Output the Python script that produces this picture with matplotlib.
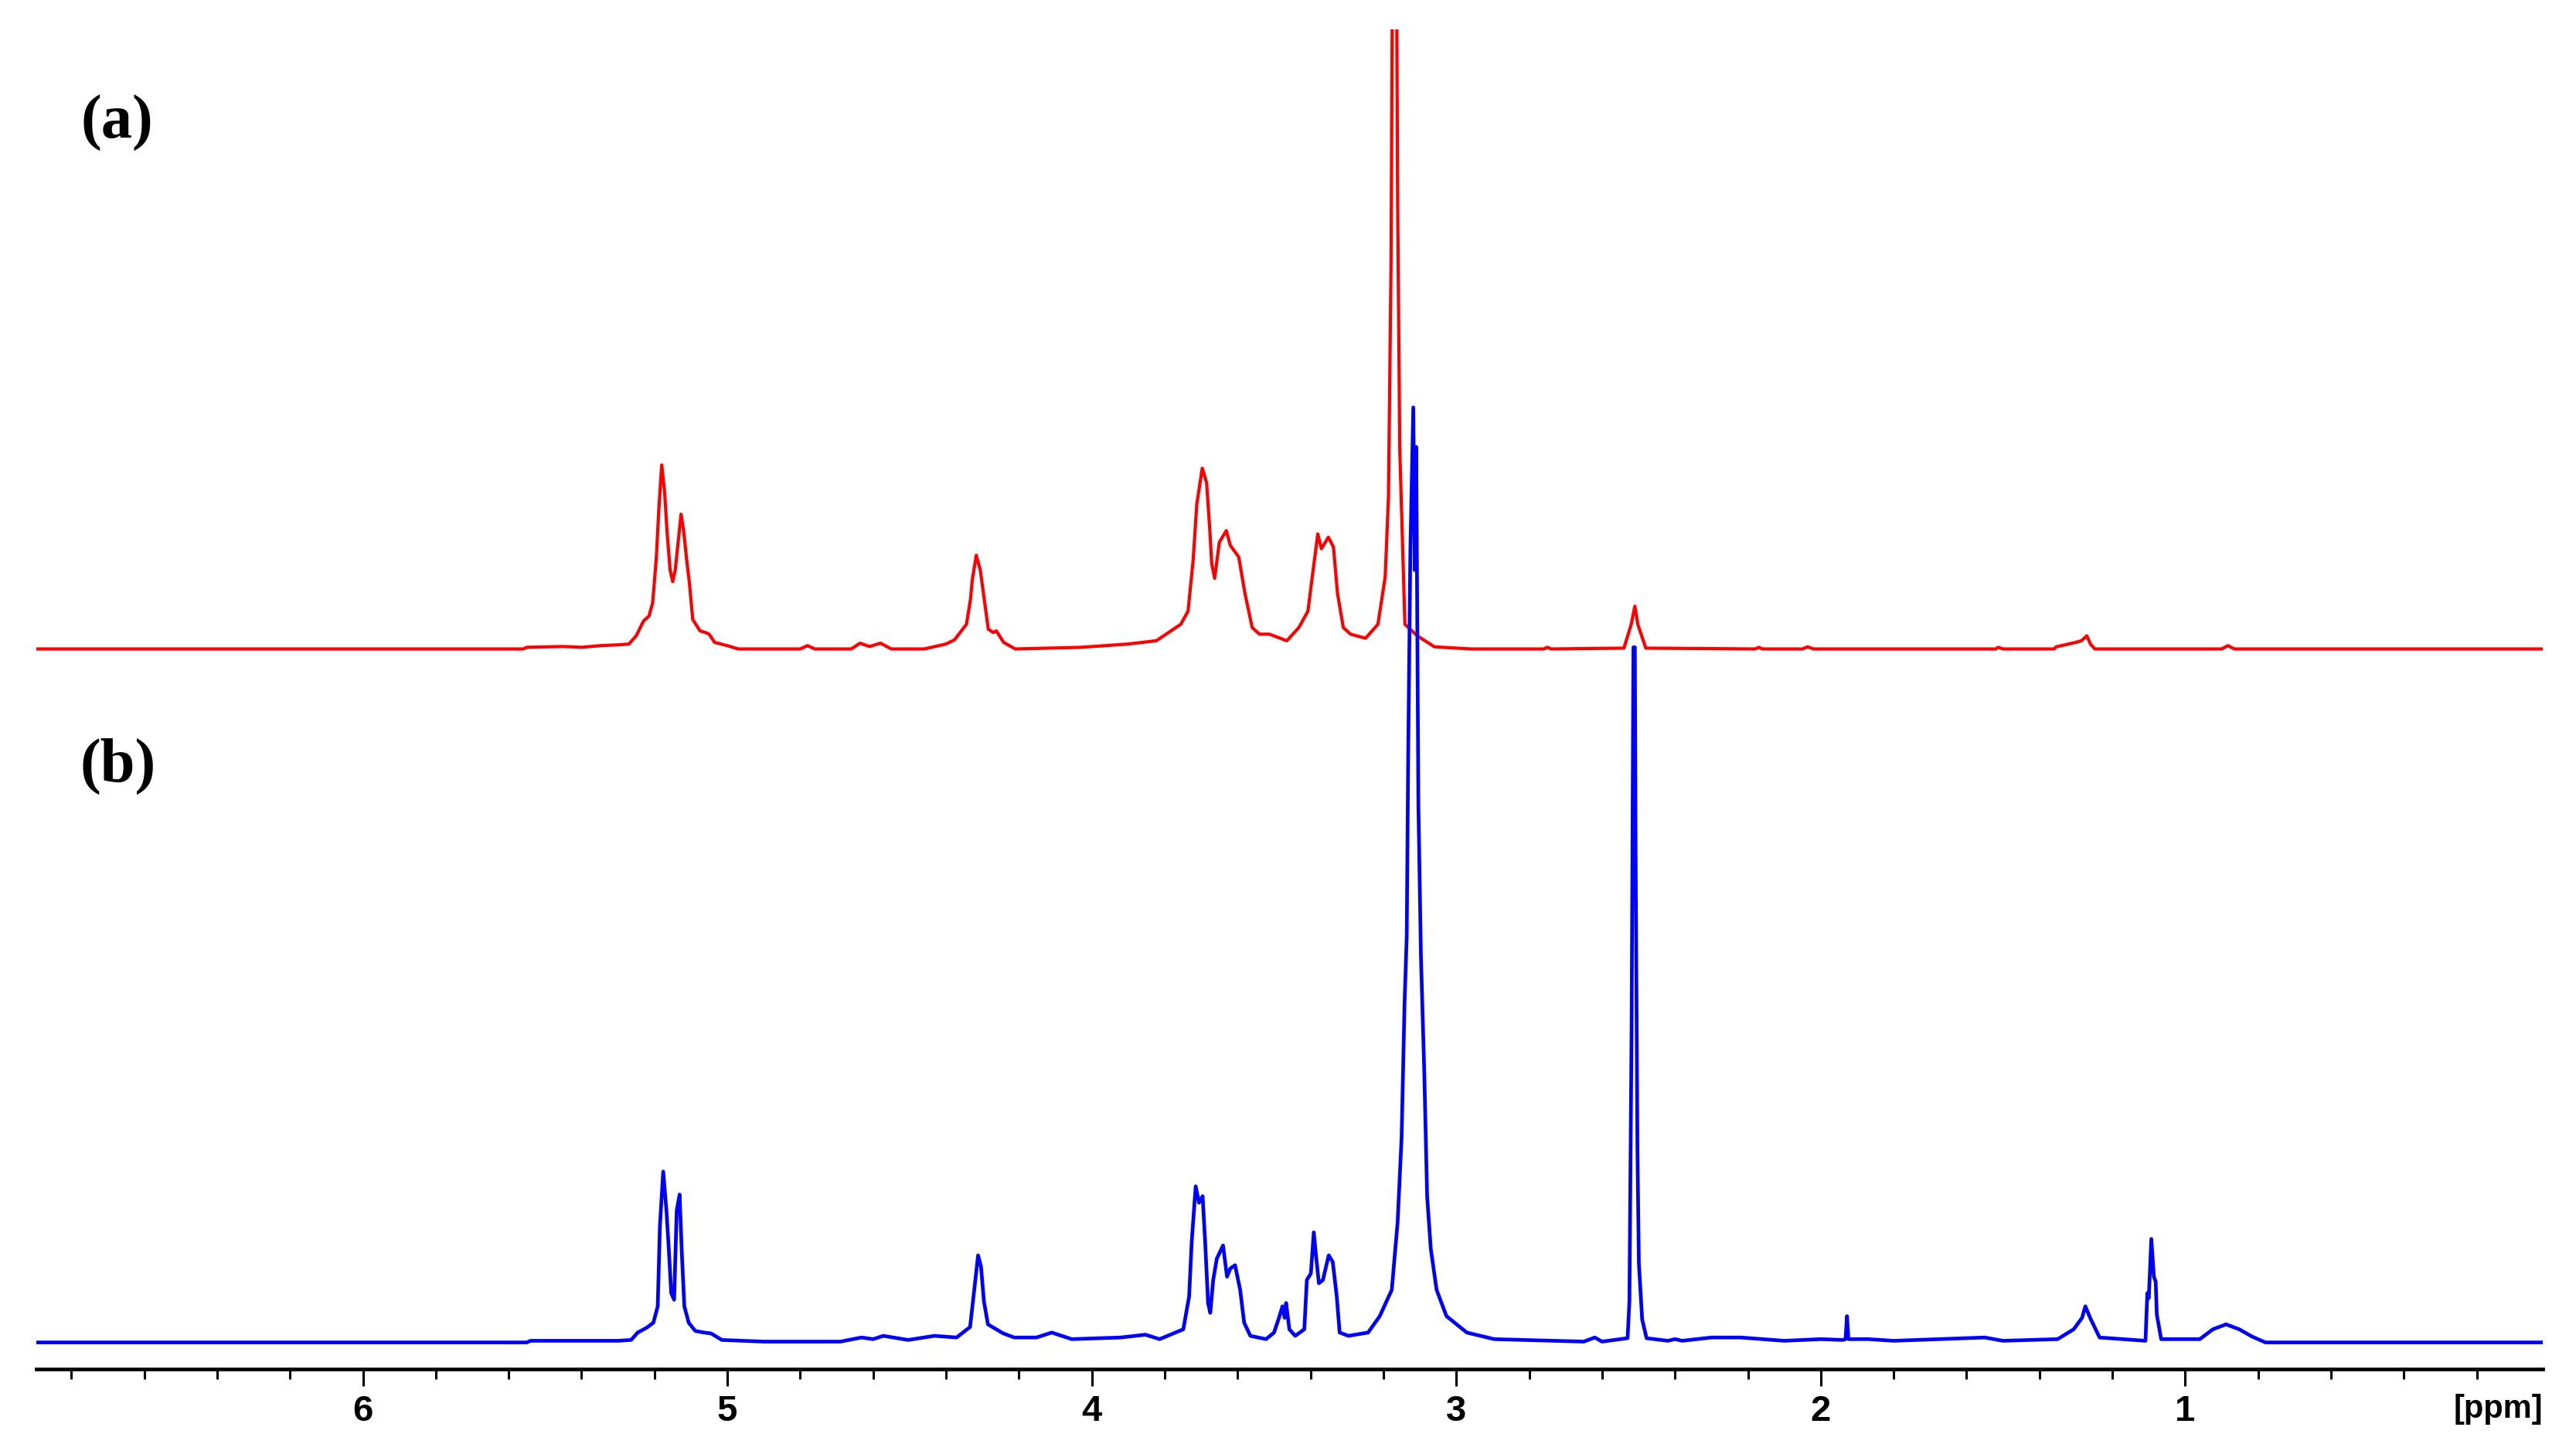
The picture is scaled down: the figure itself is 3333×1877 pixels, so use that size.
import matplotlib
matplotlib.use("Agg")
import matplotlib.pyplot as plt
from matplotlib.ticker import FixedLocator, MultipleLocator

# (a) red spectrum: chemical shift (ppm) and intensity above its own baseline
ppm_a = [6.896, 5.56, 5.55, 5.45, 5.40, 5.35, 5.30, 5.27, 5.25, 5.23, 5.215, 5.205,
         5.195, 5.188, 5.18, 5.172, 5.165, 5.157, 5.150, 5.143, 5.135, 5.127, 5.120,
         5.112, 5.104, 5.095, 5.075, 5.06, 5.05, 5.035, 5.00, 4.97, 4.80, 4.78, 4.76,
         4.66, 4.636, 4.61, 4.58, 4.55, 4.46, 4.40, 4.377, 4.344, 4.333, 4.328, 4.317,
         4.306, 4.295, 4.284, 4.27, 4.262, 4.242, 4.21, 4.03, 3.90, 3.823, 3.756, 3.736,
         3.722, 3.712, 3.697, 3.685, 3.677, 3.671, 3.663, 3.65, 3.631, 3.620, 3.597,
         3.580, 3.560, 3.540, 3.513, 3.465, 3.432, 3.407, 3.398, 3.380, 3.370, 3.351,
         3.337, 3.326, 3.310, 3.290, 3.249, 3.215, 3.195, 3.186, 3.179, 3.175, 3.164,
         3.161, 3.155, 3.141, 3.107, 3.06, 2.96, 2.76, 2.75, 2.74, 2.54, 2.52, 2.51,
         2.502, 2.48, 2.18, 2.17, 2.16, 2.05, 2.036, 2.02, 1.52, 1.513, 1.50, 1.36,
         1.354, 1.30, 1.285, 1.27, 1.26, 1.248, 0.90, 0.883, 0.865, 0.019]
int_a = [0, 0, 1, 1.5, 1, 2, 2.5, 3, 8, 17, 20, 28,
         55, 85, 112, 95, 70, 48, 41, 48, 65, 82, 72,
         55, 40, 18, 11, 10, 9, 4, 2, 0, 0, 2, 0,
         0, 3.5, 1.5, 3.5, 0, 0, 3, 5.5, 15, 30, 42, 57,
         48, 30, 12, 10, 11, 4, 0, 1, 3, 5, 15, 23,
         54, 88, 110, 101, 75, 52, 43, 65, 72, 63, 56,
         34, 13, 9, 9, 5, 13, 23, 39, 70, 61, 68,
         62, 34, 13, 9, 6.5, 15, 44, 93, 235, 420, 420,
         274, 121, 15, 8, 1.3, 0, 0, 1, 0, 0.5, 15, 26,
         15, 0.5, 0, 1, 0, 0, 1.3, 0, 0, 1, 0, 0,
         1.3, 4, 5, 8, 3, 0, 0, 2, 0, 0]

# (b) blue spectrum
ppm_b = [6.896, 5.55, 5.54, 5.30, 5.264, 5.246, 5.221, 5.203, 5.191, 5.185, 5.176,
         5.167, 5.161, 5.154, 5.146, 5.139, 5.131, 5.125, 5.118, 5.106, 5.088, 5.064,
         5.045, 5.015, 4.90, 4.69, 4.632, 4.60, 4.572, 4.504, 4.432, 4.371, 4.334,
         4.322, 4.312, 4.304, 4.296, 4.285, 4.267, 4.243, 4.213, 4.152, 4.110, 4.055,
         3.921, 3.853, 3.814, 3.749, 3.733, 3.726, 3.715, 3.706, 3.696, 3.689, 3.681,
         3.675, 3.667, 3.657, 3.640, 3.629, 3.620, 3.607, 3.593, 3.582, 3.565, 3.522,
         3.500, 3.485, 3.477, 3.471, 3.467, 3.458, 3.442, 3.417, 3.410, 3.399, 3.391,
         3.385, 3.377, 3.366, 3.350, 3.339, 3.328, 3.320, 3.296, 3.242, 3.210, 3.177,
         3.161, 3.150, 3.142, 3.136, 3.132, 3.126, 3.118, 3.114, 3.110, 3.104, 3.097,
         3.088, 3.080, 3.070, 3.054, 3.027, 2.971, 2.896, 2.65, 2.62, 2.60, 2.530,
         2.525, 2.519, 2.514, 2.510, 2.508, 2.503, 2.499, 2.49, 2.478, 2.42, 2.40,
         2.38, 2.30, 2.22, 2.10, 2.00, 1.94, 1.932, 1.928, 1.924, 1.87, 1.80, 1.55,
         1.50, 1.35, 1.306, 1.283, 1.274, 1.261, 1.235, 1.109, 1.104, 1.100, 1.093,
         1.086, 1.081, 1.078, 1.066, 0.96, 0.924, 0.888, 0.852, 0.816, 0.78, 0.019]
int_b = [0, 0, 1, 1, 1.5, 6, 9, 12, 22, 71, 104,
         80, 58, 30, 26, 80, 90, 55, 22, 12, 7, 6,
         5.5, 1.5, 0.5, 0.5, 3, 2, 4, 1.5, 4, 3, 9.4,
         33, 53, 46, 25, 11, 8.6, 5.5, 3, 3, 6, 2,
         3, 4.7, 2, 8, 28, 61, 95, 85, 89, 61, 24,
         18, 38, 51, 59, 40, 45, 47, 32, 12, 4, 2,
         6, 16, 22, 15, 24, 8, 4, 8, 38, 42, 67,
         53, 36, 38, 53, 49, 28, 6, 4, 6, 16, 32,
         73, 125, 206, 247, 356, 482, 569, 470, 545, 328, 235,
         166, 89, 57, 32, 16, 6, 2, 0.5, 3, 0.5, 2.6,
         25, 192, 423, 423, 298, 118, 48, 14, 2.6, 1, 2,
         1, 3, 3, 1, 2, 1.5, 2, 16, 2, 2, 1, 3,
         1, 2, 8, 15, 22, 15, 3, 1, 30, 27, 63,
         40, 37, 17, 2, 2, 8, 11, 8, 3.5, 0, 0]

offset_a = 422
major_ticks = [6, 5, 4, 3, 2, 1]

narrow = ["Liberation Sans Narrow", "DejaVu Sans Condensed", "Liberation Sans", "DejaVu Sans"]
serif = ["Liberation Serif", "DejaVu Serif"]

fig = plt.figure(figsize=(33.33, 18.77), dpi=100)
ax = fig.add_axes([0.0141, 0.0567, 0.9730, 0.9230])

ax.plot(ppm_a, [v + offset_a for v in int_a], color="#ff0000", lw=3.0)
ax.plot(ppm_b, int_b, color="#0000ff", lw=3.4)

ax.set_xlim(6.896, 0.019)
ax.set_ylim(-16, 799)

for s in ["top", "left", "right"]:
    ax.spines[s].set_visible(False)
ax.spines["bottom"].set_linewidth(3.4)
ax.set_yticks([])

ax.xaxis.set_major_locator(FixedLocator(major_ticks))
ax.xaxis.set_minor_locator(MultipleLocator(0.2))
ax.set_xticklabels([str(t) for t in major_ticks])
ax.tick_params(axis="x", which="major", length=16, width=2.2, pad=8)
ax.tick_params(axis="x", which="minor", length=9.5, width=2.2)
for lab in ax.get_xticklabels():
    lab.set_fontfamily(narrow)
    lab.set_fontweight("bold")
    lab.set_fontsize(34)

ax.text(1.0, -0.030, "[ppm]", transform=ax.transAxes, ha="right", va="center",
        fontsize=30, fontweight="bold", family=narrow)

fig.text(0.0453, 0.9153, "(a)", ha="center", va="center", fontsize=58,
         fontweight="bold", family=serif)
fig.text(0.0459, 0.472, "(b)", ha="center", va="center", fontsize=58,
         fontweight="bold", family=serif)

fig.savefig("out.png", dpi=100)
